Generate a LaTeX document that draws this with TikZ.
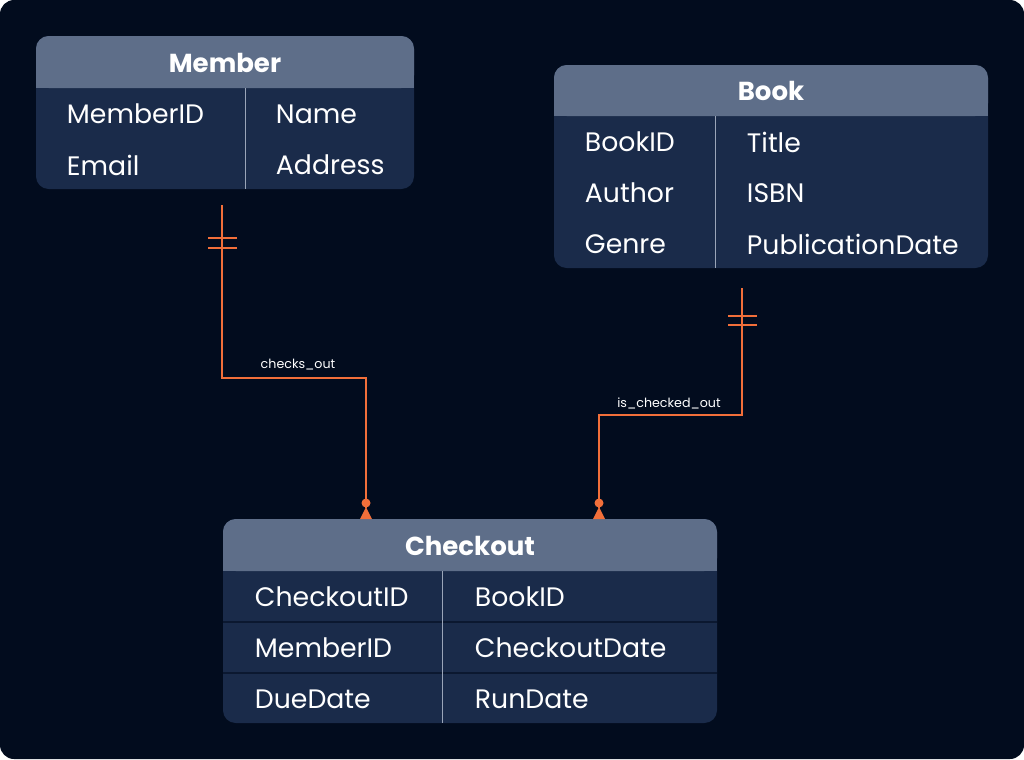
\documentclass[tikz,border=0pt]{standalone}
\usepackage{fontspec}
\setmainfont{Poppins}
\usetikzlibrary{positioning,calc}
\definecolor{bg}{HTML}{020C1E}
\definecolor{head}{HTML}{5E6E89}
\definecolor{body}{HTML}{1A2B4A}
\definecolor{rel}{HTML}{F26F3A}
\definecolor{sep}{HTML}{9AA5B8}

\begin{document}
\begin{tikzpicture}[x=0.025cm,y=-0.025cm]
\tikzset{
     box/.style={fill=body, rounded corners=9pt},
     header/.style={fill=head, rounded corners=9pt},
     title/.style={text=white, font=\bfseries\fontsize{18.5}{20}\selectfont},
     field/.style={text=white, anchor=west, font=\fontsize{19}{21}\selectfont},
     link/.style={draw=rel, line width=1.3pt},
     tag/.style={text=white, font=\fontsize{9}{10}\selectfont}}

\fill[bg, rounded corners=10pt] (0,0) rectangle (1024,759);

% The tables
\fill[box] (36,36) rectangle (414,189);
\fill[header] (36,36) rectangle (414,88);
\fill[head] (36,70) rectangle (414,88);
\draw[sep, line width=0.6pt] (245,88) -- (245,189);
\node (member) [title] at (225,63) {Member};
\node (memberid) [field] at (62,114) {MemberID};
\node (membername) [field] at (271,114) {Name};
\node (memberemail) [field] at (62,165) {Email};
\node (memberaddr) [field] at (271,165) {Address};

\fill[box] (554,65) rectangle (988,268);
\fill[header] (554,65) rectangle (988,116);
\fill[head] (554,100) rectangle (988,116);
\draw[sep, line width=0.6pt] (715,116) -- (715,268);
\node (book) [title] at (771,91) {Book};
\node (bookid) [field] at (580,142) {BookID};
\node (booktitle) [field] at (742,142) {Title};
\node (bookauthor) [field] at (580,193) {Author};
\node (bookisbn) [field] at (742,193) {ISBN};
\node (bookgenre) [field] at (580,244) {Genre};
\node (bookdate) [field] at (742,244) {PublicationDate};

\fill[box] (223,519) rectangle (717,723);
\fill[header] (223,519) rectangle (717,571);
\fill[head] (223,555) rectangle (717,571);
\draw[bg!60!body, line width=0.8pt] (223,622) -- (717,622) (223,673) -- (717,673);
\draw[sep, line width=0.6pt] (442,571) -- (442,723);
\node (checkout) [title] at (470,546) {Checkout};
\node (checkoutid) [field] at (250,597) {CheckoutID};
\node (checkoutbook) [field] at (470,597) {BookID};
\node (checkoutmember) [field] at (250,648) {MemberID};
\node (checkoutdate) [field] at (470,648) {CheckoutDate};
\node (checkoutdue) [field] at (250,699) {DueDate};
\node (checkoutrun) [field] at (470,699) {RunDate};

% The relations
\coordinate (memberend) at (222,205);
\coordinate (checkoutleft) at (366,508);
\coordinate (bookend) at (742,288);
\coordinate (checkoutright) at (599,508);
\draw[link] (memberend) |- (366,378) -- (checkoutleft);
\draw[link] (bookend) |- (599,415) -- (checkoutright);
\draw[link] (208,238) -- (237,238) (208,248) -- (237,248);
\draw[link] (728,316) -- (757,316) (728,325) -- (757,325);
\foreach \x in {366,599}{
  \fill[rel] (\x,503) circle (4.5);
  \fill[rel] (\x-6,519) -- (\x,507) -- (\x+6,519) -- cycle;
}
\node (checksout) [tag] at (298,365) {checks\_out};
\node (ischeckedout) [tag] at (669,403) {is\_checked\_out};
\end{tikzpicture}
\end{document}
